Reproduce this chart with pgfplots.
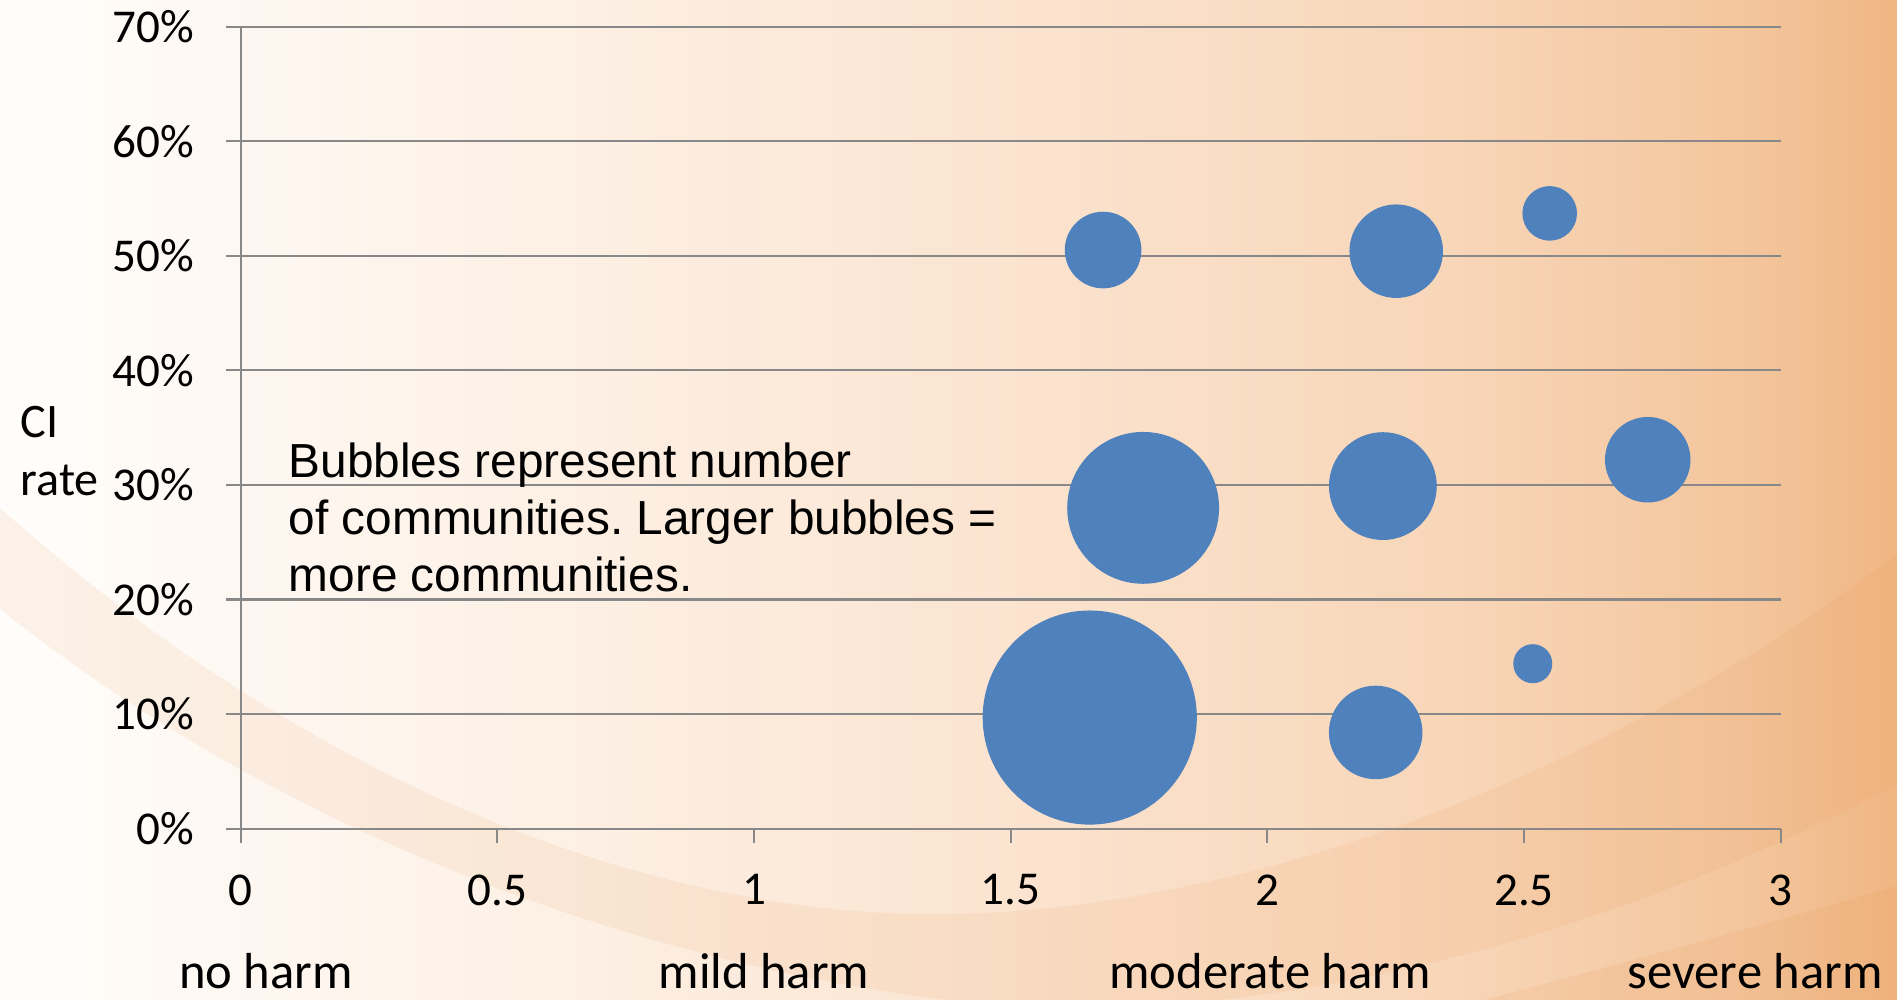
\documentclass[border=0pt]{standalone}
\usepackage{fontspec}
\setmainfont{Carlito}
\newfontfamily\notefont{Liberation Sans}
\usepackage{pgfplots}
\usepackage{pgfplotstable}
\pgfplotsset{compat=1.18}
\frenchspacing

\definecolor{bubble}{HTML}{4F81BD}
\definecolor{gridgray}{HTML}{888888}
\definecolor{bgA}{HTML}{FFFDFB}
\definecolor{bgB}{HTML}{FDF2E8}
\definecolor{bgC}{HTML}{FBE5D2}
\definecolor{bgD}{HTML}{F8D6B8}
\definecolor{bgE}{HTML}{F3C59C}
\definecolor{bgF}{HTML}{F0B683}
\definecolor{bandcol}{HTML}{E8914A}

\pgfdeclarehorizontalshading{bgshade}{100bp}{color(0bp)=(bgA); color(25bp)=(bgA);
  color(37.75bp)=(bgB); color(50.5bp)=(bgC); color(63.3bp)=(bgD);
  color(71.2bp)=(bgE); color(75bp)=(bgF); color(100bp)=(bgF)}

% bubble centres (x = harm score, y = CI rate in %), n = number of communities
\pgfplotstableread{
x      y     n
1.680  50.5  4
2.251  50.4  6
2.550  53.7  2
1.758  28.0  16
2.225  29.9  8
2.741  32.2  5
1.654  9.7   32
2.211  8.4   6
2.517  14.4  1
}\bubbles

\begin{document}
\begin{tikzpicture}
\useasboundingbox (0,0) rectangle (18.97,9.99);
\shade[shading=bgshade] (0,0) rectangle (18.97,9.99);
\begin{scope}
  \clip (0,0) rectangle (18.97,9.99);
  \fill[bandcol, opacity=0.1]
    (0,4.91) .. controls (3.5,1.8) and (7,0.8) .. (9.5,0.85)
    .. controls (12.5,0.9) and (16,2.2) .. (18.97,4.45)
    -- (18.97,2.15) .. controls (17,1.1) and (14,-0.1) .. (10.5,-0.1)
    .. controls (7,0.1) and (3,1.5) .. (0,3.9) -- cycle;
  \fill[bandcol, opacity=0.12]
    (14.5,-0.1) .. controls (16,0.3) and (17.5,0.7) .. (18.97,1.13)
    -- (18.97,-0.1) -- cycle;
\end{scope}

\begin{axis}[
  at={(2.407cm,1.703cm)}, anchor=south west,
  scale only axis, width=15.40cm, height=8.021cm,
  xmin=0, xmax=3, ymin=0, ymax=70,
  xtick={0,0.5,1,1.5,2,2.5,3},
  ytick={0,10,20,30,40,50,60,70},
  axis lines*=left,
  axis line style={gridgray, line width=0.6pt},
  ymajorgrids,
  grid style={gridgray, line width=0.6pt},
  tick style={gridgray, line width=0.6pt},
  tick align=outside,
  major tick length=0.145cm,
  /pgf/number format/assume math mode=true,
  ticklabel style={font=\fontsize{13.4}{16}\selectfont},
  yticklabel={\pgfmathprintnumber{\tick}\%},
  xticklabel style={yshift=-0.19cm},
  yticklabel style={xshift=-0.2cm},
  clip=false,
]
\addplot[scatter, only marks, mark=*,
  scatter/use mapped color={draw=bubble, fill=bubble},
  visualization depends on={5.35*sqrt(\thisrow{n}) \as \rad},
  scatter/@pre marker code/.append style={/tikz/mark size=\rad pt},
] table[x=x, y=y] {\bubbles};
\end{axis}

\begin{scope}[every node/.style={inner sep=0pt}]
  \node[anchor=base west, font=\fontsize{13.7}{16}\selectfont] at (0.2,5.61) {CI};
  \node[anchor=base west, font=\fontsize{13.7}{16}\selectfont] at (0.2,5.03) {rate};
  \node[anchor=base west, font=\notefont\fontsize{13.6}{16}\selectfont] at (2.88,5.21) {Bubbles represent number};
  \node[anchor=base west, font=\notefont\fontsize{13.6}{16}\selectfont] at (2.88,4.64) {of communities. Larger bubbles =};
  \node[anchor=base west, font=\notefont\fontsize{13.6}{16}\selectfont] at (2.88,4.07) {more communities.};
  \node[anchor=base, font=\fontsize{14.4}{17}\selectfont] at (2.66,0.1) {no harm};
  \node[anchor=base, font=\fontsize{14.4}{17}\selectfont] at (7.64,0.1) {mild harm};
  \node[anchor=base, font=\fontsize{14.4}{17}\selectfont] at (12.70,0.1) {moderate harm};
  \node[anchor=base, font=\fontsize{14.4}{17}\selectfont] at (17.55,0.1) {severe harm};
\end{scope}
\end{tikzpicture}
\end{document}
